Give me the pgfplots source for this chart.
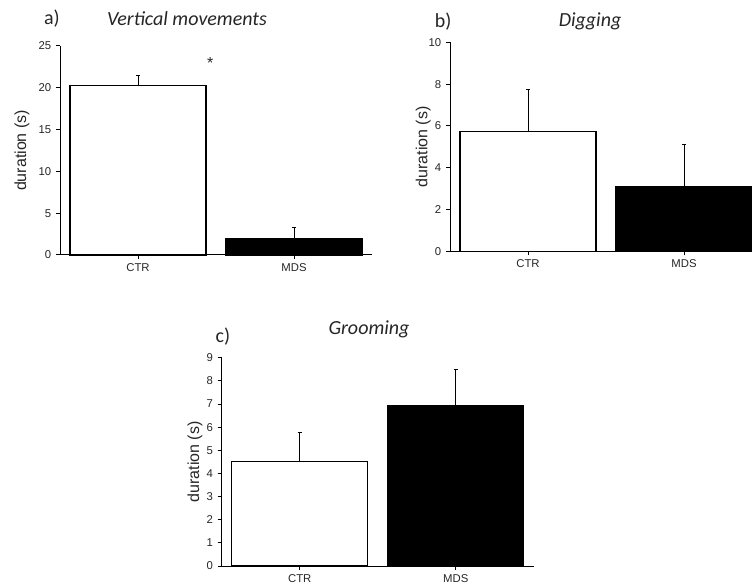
\documentclass[border=0pt]{standalone}
\usepackage{pgfplots}
\pgfplotsset{compat=1.18}
\usepackage{fontspec}
\setmainfont{Liberation Sans}
\newfontfamily\calibri{Carlito}

% 1px of the reference = 0.75pt
\pgfplotsset{
  panel/.style={
    scale only axis, width=234pt, height=156.75pt,
    anchor=south west, clip=false,
    axis lines*=left, axis line style={line width=0.75pt},
    xmin=-0.5, xmax=1.5, ymin=0,
    xtick={0,1}, xticklabels={CTR,MDS},
    tick align=outside, major tick length=3pt,
    tick style={line width=0.75pt, black},
    tick label style={font=\fontsize{8.5}{10}\selectfont, text=black!85},
    /pgf/number format/assume math mode=true,
    ylabel={duration (s)},
    ylabel style={font=\fontsize{12}{14}\selectfont, text=black!85, anchor=center},
    ybar, bar width=102pt, bar shift=0pt,
  },
  ctr/.style={draw=black, fill=white, line width=0.8pt,
    error bars/.cd, y dir=plus, y explicit,
    error bar style={line width=0.75pt, black},
    error mark options={rotate=90, mark size=1.5pt, line width=0.75pt}},
  mds/.style={draw=black, fill=black, line width=0.8pt,
    error bars/.cd, y dir=plus, y explicit,
    error bar style={line width=0.75pt, black},
    error mark options={rotate=90, mark size=1.5pt, line width=0.75pt}},
}
\tikzset{
  ttl/.style={font=\calibri\itshape\fontsize{15}{18}\selectfont, text=black!85},
  lbl/.style={font=\calibri\fontsize{15}{18}\selectfont, text=black!85},
}

\begin{document}
\begin{tikzpicture}

% a) Vertical movements
\begin{axis}[panel, at={(45pt,249.75pt)}, ymax=25, ytick={0,5,...,25},
  ylabel style={at={(axis description cs:-0.122,0.5)}}]
  \addplot[ctr] coordinates {(0,20.3) +- (0,1.2)};
  \addplot[mds] coordinates {(1,2.0) +- (0,1.3)};
  \node[font=\fontsize{12}{14}\selectfont, text=black!85] at (axis cs:0.463,23.0) {*};
  \node[lbl] at (axis description cs:-0.026,1.129) {a)};
  \node[ttl] at (axis description cs:0.407,1.129) {Vertical movements};
\end{axis}

% b) Digging
\begin{axis}[panel, at={(337.5pt,252.5pt)}, ymax=10, ytick={0,2,...,10},
  ylabel style={at={(axis description cs:-0.0855,0.5)}}]
  \addplot[ctr] coordinates {(0,5.74) +- (0,1.99)};
  \addplot[mds] coordinates {(1,3.11) +- (0,1.99)};
  \node[lbl] at (axis description cs:-0.022,1.097) {b)};
  \node[ttl] at (axis description cs:0.449,1.102) {Digging};
\end{axis}

% c) Grooming
\begin{axis}[panel, at={(166.3pt,16.5pt)}, height=156.2pt, ymax=9, ytick={0,1,...,9},
  ylabel style={at={(axis description cs:-0.0855,0.5)}}]
  \addplot[ctr] coordinates {(0,4.51) +- (0,1.25)};
  \addplot[mds] coordinates {(1,6.93) +- (0,1.58)};
  \node[lbl] at (axis description cs:0.004,1.101) {c)};
  \node[ttl] at (axis description cs:0.472,1.138) {Grooming};
\end{axis}

\pgfresetboundingbox
\path[use as bounding box] (0,0) rectangle (564pt,441pt);
\end{tikzpicture}
\end{document}
